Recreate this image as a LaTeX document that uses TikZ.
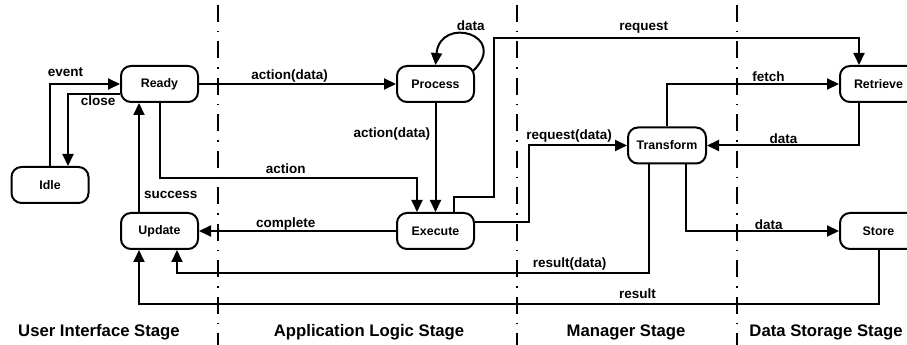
\documentclass[tikz,border=0pt]{standalone}
\usepackage{fontspec}
\setmainfont{Liberation Sans}
\usetikzlibrary{arrows.meta}
\begin{document}
\begin{tikzpicture}[x=1pt,y=1pt,
  state/.style={draw,line width=2pt,rounded corners=10pt,minimum width=77pt,minimum height=36pt,inner sep=0pt,font=\fontsize{12.4}{14}\selectfont\bfseries},
  flow/.style={line width=2pt,-{Triangle[length=12pt,width=11pt]}},
  lbl/.style={anchor=base,inner sep=0pt,font=\fontsize{13.5}{15}\selectfont\bfseries},
  stage/.style={anchor=base,inner sep=0pt,font=\fontsize{16.7}{19}\selectfont\bfseries},
  sep/.style={line width=1.5pt,dash pattern=on 17pt off 9pt on 1.5pt off 9pt}]
\useasboundingbox (0,0) rectangle (907,345);
% stages
\foreach \x in {218,517,737}
  \draw[sep] (\x,340) -- (\x,0);
\node[stage] (ui) at (99,8) {User Interface Stage};
\node[stage] (app) at (369,8) {Application Logic Stage};
\node[stage] (mgr) at (626,8) {Manager Stage};
\node[stage] (dat) at (826,8) {Data Storage Stage};
% states
\node[state] (ready) at (159.5,261) {Ready};
\node[state] (idle) at (50,160) {Idle};
\node[state] (update) at (159.5,114) {Update};
\node[state] (process) at (435.5,261) {Process};
\node[state] (execute) at (435.5,114) {Execute};
\node[state,minimum width=78pt] (transform) at (667,199.5) {Transform};
\node[state] (retrieve) at (878.5,261) {Retrieve};
\node[state] (store) at (878.5,114) {Store};
% transitions
\draw[flow] (idle.north) |- node[lbl,pos=0.61,yshift=7pt]{event} (ready.west);
\draw[flow] ([yshift=-10pt]ready.west) -| node[lbl,pos=0.21,yshift=-12pt]{close} ([xshift=18pt]idle.north);
\draw[flow] (ready) -- node[lbl,pos=0.46,yshift=4pt]{action(data)} (process);
\draw[flow] (ready.south) -- ++(0,-75) -| node[lbl,pos=0.245,yshift=4pt]{action} ([xshift=-18.5pt]execute.north);
\draw[flow] (process) -- node[lbl,anchor=base east,pos=0.32,xshift=-4.5pt]{action(data)} (execute);
\draw[flow] ([xshift=-2pt,yshift=-6pt]process.north east) .. controls (510,310) and (440,330) .. node[lbl,pos=0.45,xshift=-3pt,yshift=7pt]{data} (process.north);
\draw[flow] (execute) -- node[lbl,pos=0.56,yshift=3pt]{complete} (update);
\draw[flow] ([xshift=-20.5pt]update.north) -- node[lbl,anchor=base west,pos=0.126,xshift=4pt]{success} ([xshift=-20.5pt]ready.south);
\draw[flow] ([xshift=18.5pt]execute.north) -- ++(0,15) -- ++(40,0) -- ++(0,159) -| node[lbl,pos=0.205,yshift=7pt]{request} ([xshift=-19.5pt]retrieve.north);
\draw[flow] ([yshift=9pt]execute.east) -- ++(54,0) |- node[lbl,pos=0.705,yshift=6pt]{request(data)} (transform.west);
\draw[flow] ([xshift=-18pt]transform.south) -- ++(0,-109) -| node[lbl,pos=0.084,yshift=6pt]{result(data)} ([xshift=17.5pt]update.south);
\draw[flow] (store.south) -- ++(0,-54) -| node[lbl,pos=0.163,yshift=5pt]{result} ([xshift=-20.5pt]update.south);
\draw[flow] ([xshift=19pt]transform.south) |- node[lbl,pos=0.77,yshift=1.5pt]{data} (store.west);
\draw[flow] (transform.north) |- node[lbl,pos=0.795,yshift=2.5pt]{fetch} (retrieve.west);
\draw[flow] ([xshift=-19.5pt]retrieve.south) |- node[lbl,pos=0.748,yshift=1.5pt]{data} (transform.east);
\end{tikzpicture}
\end{document}
